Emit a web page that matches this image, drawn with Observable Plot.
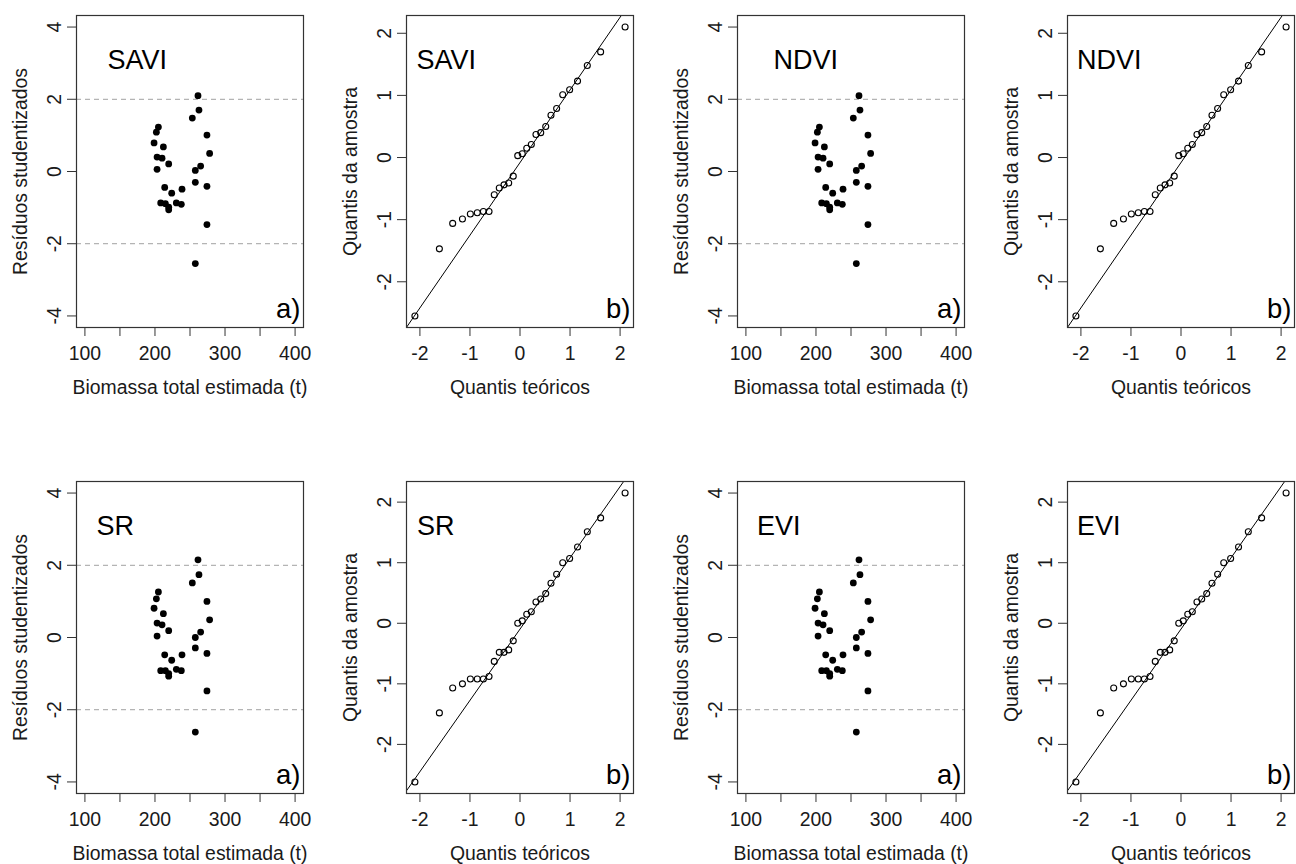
<!DOCTYPE html>
<html><head><meta charset="utf-8">
<script src="https://cdn.jsdelivr.net/npm/d3@7"></script>
<script src="https://cdn.jsdelivr.net/npm/@observablehq/plot@0.6"></script>
<style>
body{margin:0;background:#fff;}
#fig{position:relative;width:1296px;height:864px;overflow:hidden;background:#fff;}
#fig svg{position:absolute;}
</style></head><body><div id="fig"></div>
<script>
// Fitted biomass (x of residual plots)
const biomassa = [261.4, 262.8, 253.3, 204.9, 202.0, 274.2, 198.7, 212.0, 278.0, 203.0, 210.1, 219.6, 265.2, 203.0, 257.6, 257.6, 213.9, 274.2, 238.6, 223.9, 208.2, 214.9, 219.6, 219.6, 230.5, 237.6, 274.2, 257.6];
// Studentized residuals per index
const residSAVI = [2.10, 1.70, 1.48, 1.23, 1.09, 1.01, 0.79, 0.68, 0.50, 0.40, 0.37, 0.21, 0.15, 0.06, 0.03, -0.30, -0.44, -0.41, -0.49, -0.60, -0.87, -0.89, -0.99, -1.06, -0.87, -0.91, -1.47, -2.55];
const residNDVI = [2.10, 1.70, 1.48, 1.23, 1.09, 1.01, 0.79, 0.68, 0.50, 0.40, 0.37, 0.21, 0.15, 0.06, 0.03, -0.30, -0.44, -0.41, -0.49, -0.60, -0.87, -0.89, -0.99, -1.06, -0.87, -0.91, -1.47, -2.55];
const residSR = [2.15, 1.74, 1.51, 1.26, 1.07, 1.00, 0.81, 0.66, 0.49, 0.40, 0.35, 0.19, 0.15, 0.04, 0.00, -0.29, -0.48, -0.44, -0.48, -0.63, -0.92, -0.92, -1.00, -1.07, -0.88, -0.92, -1.48, -2.62];
const residEVI = [2.15, 1.74, 1.51, 1.26, 1.07, 1.00, 0.81, 0.66, 0.49, 0.40, 0.35, 0.19, 0.15, 0.04, 0.00, -0.29, -0.48, -0.44, -0.48, -0.63, -0.92, -0.92, -1.00, -1.07, -0.88, -0.92, -1.48, -2.62];
// Theoretical normal quantiles for n = 28
const quantisTeoricos = [-2.100, -1.611, -1.345, -1.150, -0.992, -0.854, -0.732, -0.619, -0.514, -0.414, -0.319, -0.226, -0.135, -0.045, 0.045, 0.135, 0.226, 0.319, 0.414, 0.514, 0.619, 0.732, 0.854, 0.992, 1.150, 1.345, 1.611, 2.100];
// Tick values
const resXTicks = [100, 150, 200, 250, 300, 350, 400];
const resXLabels = [100, 200, 300, 400];
const resYTicks = [-4, -2, 0, 2, 4];
const qqTicks = [-2, -1, 0, 1, 2];
const refLines = [-2, 2];
const resXDomain = [100, 400];
const resYDomain = [-4, 4];

const panels = [
  {kind: "res", label: "SAVI", resid: residSAVI, col: 0, row: 0, labelDx: 31, tag: "a)"},
  {kind: "qq",  label: "SAVI", resid: residSAVI, col: 1, row: 0, labelDx: 10, tag: "b)"},
  {kind: "res", label: "NDVI", resid: residNDVI, col: 2, row: 0, labelDx: 36, tag: "a)"},
  {kind: "qq",  label: "NDVI", resid: residNDVI, col: 3, row: 0, labelDx: 9.5, tag: "b)"},
  {kind: "res", label: "SR",   resid: residSR,   col: 0, row: 1, labelDx: 20, tag: "a)"},
  {kind: "qq",  label: "SR",   resid: residSR,   col: 1, row: 1, labelDx: 10.5, tag: "b)"},
  {kind: "res", label: "EVI",  resid: residEVI,  col: 2, row: 1, labelDx: 19.5, tag: "a)"},
  {kind: "qq",  label: "EVI",  resid: residEVI,  col: 3, row: 1, labelDx: 9.5, tag: "b)"}
];

const FONT = "'Liberation Sans', Arial, Helvetica, sans-serif";
const TXT = "#1a1a1a";
const AX = "#333";
const FS = 19.4;

function pad(ext) { const d = (ext[1] - ext[0]) * 0.04; return [ext[0] - d, ext[1] + d]; }

function common(p, xTitle, yTitle, yTicks) {
  return [
    Plot.frame({stroke: AX, strokeWidth: 1.2}),
    Plot.axisY({ticks: yTicks, tickSize: 9, tickFormat: () => "", stroke: AX, label: null}),
    Plot.text(yTicks, {y: d => d, text: d => String(d), frameAnchor: "left", dx: -16, rotate: -90,
      lineAnchor: "bottom", textAnchor: "middle", fontSize: FS, fill: TXT}),
    Plot.text([xTitle], {text: d => d, frameAnchor: "bottom", dy: 60, lineAnchor: "middle", fontSize: FS, fill: TXT}),
    Plot.text([yTitle], {text: d => d, frameAnchor: "left", dx: -50, rotate: -90, lineAnchor: "bottom",
      textAnchor: "middle", fontSize: FS, fill: TXT}),
    Plot.text([p.label], {text: d => d, frameAnchor: "top-left", dx: p.labelDx, dy: 53, lineAnchor: "bottom",
      textAnchor: "start", fontSize: 27, fill: "#000"}),
    Plot.text([p.tag], {text: d => d, frameAnchor: "bottom-right", dx: -3, dy: -10, lineAnchor: "bottom",
      textAnchor: "end", fontSize: 27.5, fill: "#000"})
  ];
}

const fig = document.getElementById("fig");
for (const p of panels) {
  let marks, x, y;
  if (p.kind === "res") {
    const data = biomassa.map((b, i) => ({b, r: p.resid[i]}));
    x = {domain: pad(resXDomain)};
    y = {domain: pad(resYDomain)};
    marks = [
      Plot.ruleY(refLines, {stroke: "#b4b4b4", strokeDasharray: "5,4", strokeWidth: 1.3}),
      Plot.dot(data, {x: "b", y: "r", r: 3.4, fill: "#000", stroke: "none"}),
      Plot.axisX({ticks: resXTicks, tickFormat: d => resXLabels.includes(d) ? String(d) : "",
        tickSize: 9, tickPadding: 10, fontSize: FS, stroke: AX, color: TXT, label: null}),
      ...common(p, "Biomassa total estimada (t)", "Resíduos studentizados", resYTicks)
    ];
  } else {
    const sorted = p.resid.slice().sort((a, b) => a - b);
    const data = quantisTeoricos.map((t, i) => ({t, s: sorted[i]}));
    const xd = pad(d3.extent(quantisTeoricos));
    const yd = pad(d3.extent(sorted));
    const q1 = d3.quantile(sorted, 0.25), q3 = d3.quantile(sorted, 0.75);
    const z = 0.6745;
    const slope = (q3 - q1) / (2 * z), icpt = q1 + slope * z;
    x = {domain: xd};
    y = {domain: yd};
    marks = [
      Plot.link([{x1: xd[0], x2: xd[1], y1: icpt + slope * xd[0], y2: icpt + slope * xd[1]}],
        {x1: "x1", x2: "x2", y1: "y1", y2: "y2", stroke: "#000", strokeWidth: 1, clip: true}),
      Plot.dot(data, {x: "t", y: "s", r: 3, stroke: "#000", strokeWidth: 1.1, fill: "none"}),
      Plot.axisX({ticks: qqTicks, tickFormat: d => String(d),
        tickSize: 9, tickPadding: 10, fontSize: FS, stroke: AX, color: TXT, label: null}),
      ...common(p, "Quantis teóricos", "Quantis da amostra", qqTicks)
    ];
  }
  const svg = Plot.plot({
    width: 330, height: 432,
    marginLeft: 76, marginRight: 27, marginTop: 15, marginBottom: 105,
    x, y,
    style: {fontFamily: FONT, fontSize: FS + "px", background: "transparent", overflow: "visible", color: TXT},
    marks
  });
  svg.style.left = (p.col * 330.43) + "px";
  svg.style.top = (p.row * 466) + "px";
  fig.appendChild(svg);
}
</script>
</body></html>
